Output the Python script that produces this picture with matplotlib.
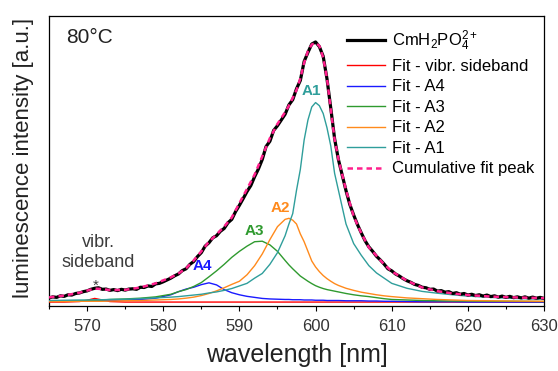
import numpy as np
import matplotlib
matplotlib.use('Agg')
import matplotlib.pyplot as plt

plt.rcParams['font.family'] = ['Liberation Sans', 'DejaVu Sans']
plt.rcParams['mathtext.fontset'] = 'custom'
plt.rcParams['mathtext.rm'] = 'Liberation Sans'
plt.rcParams['mathtext.it'] = 'Liberation Sans:italic'
plt.rcParams['mathtext.bf'] = 'Liberation Sans:bold'

# measured spectrum, 0.5 nm steps starting at 565 nm (normalised intensity)
counts = [0.016, 0.020, 0.018, 0.024, 0.022, 0.028, 0.027, 0.033, 0.035, 0.040,
          0.043, 0.049, 0.053, 0.055, 0.049, 0.050, 0.045, 0.048, 0.044, 0.049,
          0.046, 0.050, 0.051, 0.049, 0.057, 0.056, 0.062, 0.060, 0.070, 0.072,
          0.078, 0.085, 0.092, 0.101, 0.108, 0.121, 0.128, 0.145, 0.156, 0.175,
          0.190, 0.215, 0.228, 0.247, 0.255, 0.272, 0.283, 0.305, 0.318, 0.348,
          0.372, 0.398, 0.425, 0.448, 0.482, 0.512, 0.548, 0.598, 0.618, 0.660,
          0.678, 0.700, 0.722, 0.758, 0.778, 0.820, 0.852, 0.925, 0.960, 0.992,
          1.000, 0.982, 0.945, 0.858, 0.745, 0.628, 0.548, 0.488, 0.428, 0.375,
          0.335, 0.298, 0.266, 0.236, 0.212, 0.195, 0.176, 0.162, 0.146, 0.128,
          0.120, 0.108, 0.100, 0.090, 0.082, 0.076, 0.068, 0.064, 0.057, 0.055,
          0.049, 0.050, 0.042, 0.044, 0.038, 0.040, 0.033, 0.036, 0.030, 0.033,
          0.027, 0.030, 0.025, 0.028, 0.023, 0.027, 0.021, 0.024, 0.019, 0.023,
          0.018, 0.022, 0.017, 0.020, 0.016, 0.020, 0.015, 0.019, 0.015, 0.018,
          0.014]
wl_data = 565 + 0.5 * np.arange(len(counts))

# fit curves
wl_fit = [565, 567, 569, 570, 571, 572, 573, 575, 577, 579, 581, 582, 583, 584,
          585, 586, 587, 588, 589, 590, 591, 592, 593, 594, 595, 596, 596.5, 597,
          597.5, 598, 598.5, 599, 599.5, 600, 600.5, 601, 601.5, 602, 602.5, 603,
          604, 605, 606, 607, 608, 609, 610, 612, 614, 616, 618, 620, 623, 626, 630]

fit_side = [0.000, 0.000, 0.002, 0.007, 0.014, 0.008, 0.002, 0.000, 0.000, 0.000,
            0.000, 0.000, 0.000, 0.000, 0.000, 0.000, 0.000, 0.000, 0.000, 0.000,
            0.000, 0.000, 0.000, 0.000, 0.000, 0.000, 0.000, 0.000, 0.000, 0.000,
            0.000, 0.000, 0.000, 0.000, 0.000, 0.000, 0.000, 0.000, 0.000, 0.000,
            0.000, 0.000, 0.000, 0.000, 0.000, 0.000, 0.000, 0.000, 0.000, 0.000,
            0.000, 0.000, 0.000, 0.000, 0.000]
fit_a4 = [0.003, 0.003, 0.004, 0.004, 0.005, 0.005, 0.006, 0.008, 0.010, 0.015,
          0.028, 0.040, 0.050, 0.057, 0.067, 0.074, 0.066, 0.048, 0.036, 0.028,
          0.022, 0.018, 0.014, 0.012, 0.011, 0.010, 0.010, 0.009, 0.009, 0.009,
          0.008, 0.008, 0.008, 0.007, 0.007, 0.007, 0.006, 0.006, 0.006, 0.006,
          0.005, 0.005, 0.005, 0.004, 0.004, 0.003, 0.003, 0.002, 0.001, 0.001,
          0.001, 0.000, 0.000, 0.000, 0.000]
fit_a3 = [0.003, 0.004, 0.005, 0.006, 0.007, 0.008, 0.010, 0.012, 0.015, 0.020,
          0.030, 0.040, 0.048, 0.060, 0.075, 0.097, 0.120, 0.145, 0.172, 0.195,
          0.215, 0.232, 0.234, 0.220, 0.195, 0.160, 0.143, 0.128, 0.114, 0.100,
          0.090, 0.080, 0.071, 0.063, 0.057, 0.052, 0.048, 0.045, 0.042, 0.039,
          0.033, 0.028, 0.024, 0.021, 0.017, 0.013, 0.010, 0.008, 0.006, 0.005,
          0.004, 0.004, 0.003, 0.003, 0.002]
fit_a2 = [0.002, 0.002, 0.003, 0.003, 0.003, 0.003, 0.004, 0.005, 0.006, 0.008,
          0.010, 0.012, 0.015, 0.019, 0.025, 0.033, 0.043, 0.055, 0.068, 0.080,
          0.105, 0.140, 0.185, 0.240, 0.290, 0.318, 0.322, 0.315, 0.300, 0.262,
          0.232, 0.195, 0.158, 0.135, 0.117, 0.102, 0.090, 0.080, 0.071, 0.064,
          0.053, 0.045, 0.038, 0.033, 0.028, 0.024, 0.021, 0.016, 0.013, 0.010,
          0.008, 0.006, 0.005, 0.004, 0.003]
fit_a1 = [0.006, 0.007, 0.008, 0.008, 0.009, 0.009, 0.010, 0.011, 0.013, 0.016,
          0.019, 0.021, 0.024, 0.027, 0.030, 0.035, 0.039, 0.045, 0.052, 0.062,
          0.072, 0.092, 0.110, 0.145, 0.190, 0.255, 0.300, 0.340, 0.430, 0.510,
          0.623, 0.700, 0.750, 0.767, 0.755, 0.725, 0.670, 0.600, 0.495, 0.430,
          0.300, 0.225, 0.180, 0.140, 0.112, 0.092, 0.072, 0.053, 0.041, 0.034,
          0.028, 0.023, 0.018, 0.014, 0.011]
fit_cum = [0.018, 0.025, 0.036, 0.044, 0.052, 0.050, 0.046, 0.047, 0.056, 0.072,
           0.095, 0.110, 0.130, 0.160, 0.195, 0.232, 0.260, 0.290, 0.325, 0.380,
           0.435, 0.490, 0.560, 0.630, 0.685, 0.730, 0.755, 0.785, 0.815, 0.860,
           0.920, 0.965, 0.990, 0.997, 0.985, 0.940, 0.860, 0.740, 0.625, 0.550,
           0.430, 0.330, 0.265, 0.210, 0.178, 0.145, 0.118, 0.082, 0.056, 0.042,
           0.033, 0.027, 0.021, 0.018, 0.015]

col_red = '#ff0000'
col_blue = '#1a1aff'
col_green = '#2f9a2f'
col_orange = '#ff8a1c'
col_teal = '#2f9e9b'
col_pink = '#ff1f8c'

fig = plt.figure(figsize=(5.58, 3.71), dpi=100)
ax = fig.add_axes([0.0878, 0.175, 0.8872, 0.782])

ax.plot(wl_data, counts, color='black', lw=2.3, label=r'CmH$_2$PO$_4^{2+}$', zorder=5)
ax.plot(wl_fit, fit_side, color=col_red, lw=1.0, label='Fit - vibr. sideband', zorder=3)
ax.plot(wl_fit, fit_a4, color=col_blue, lw=1.0, label='Fit - A4', zorder=3)
ax.plot(wl_fit, fit_a3, color=col_green, lw=1.0, label='Fit - A3', zorder=3)
ax.plot(wl_fit, fit_a2, color=col_orange, lw=1.0, label='Fit - A2', zorder=3)
ax.plot(wl_fit, fit_a1, color=col_teal, lw=1.0, label='Fit - A1', zorder=3)
ax.plot(wl_fit, fit_cum, color=col_pink, lw=1.8, ls=(0, (2.2, 1.6)),
        label='Cumulative fit peak', zorder=6)

ax.set_xlim(565, 630)
ax.set_ylim(-0.0154, 1.1)
ax.set_xticks(np.arange(570, 631, 10))
ax.set_xticks(np.arange(565, 631, 5), minor=True)
ax.set_yticks([])
ax.tick_params(axis='x', which='major', direction='out', length=3.6, width=0.8,
               labelsize=12, labelcolor='#333333', pad=6)
ax.tick_params(axis='x', which='minor', direction='out', length=2.5, width=0.8)
for sp in ax.spines.values():
    sp.set_linewidth(0.9)

ax.set_xlabel('wavelength [nm]', fontsize=18, color='#222222', labelpad=6)
fig.text(0.043, 0.575, 'luminescence intensity [a.u.]', rotation=90, fontsize=16,
         color='#222222', ha='center', va='center')

# annotations
ax.text(0.035, 0.925, '80°C', transform=ax.transAxes, fontsize=15, color='#222222',
        ha='left', va='center')
ax.text(571.5, 0.19, 'vibr.\nsideband', fontsize=13, color='#3c3c3c', ha='center',
        va='center', linespacing=1.2)
ax.text(571.2, 0.062, '*', fontsize=11, color='#3c3c3c', ha='center', va='center')
ax.text(599.5, 0.81, 'A1', fontsize=11, fontweight='bold', color=col_teal, ha='center', va='center')
ax.text(595.4, 0.36, 'A2', fontsize=11, fontweight='bold', color=col_orange, ha='center', va='center')
ax.text(592.0, 0.275, 'A3', fontsize=11, fontweight='bold', color=col_green, ha='center', va='center')
ax.text(585.2, 0.138, 'A4', fontsize=11, fontweight='bold', color=col_blue, ha='center', va='center')

ax.legend(loc='upper left', bbox_to_anchor=(0.622, 0.922), bbox_transform=fig.transFigure,
          frameon=False, fontsize=12, labelspacing=0.33, handlelength=2.3,
          handletextpad=0.4, borderpad=0, borderaxespad=0)

fig.savefig('out.png', dpi=100)
